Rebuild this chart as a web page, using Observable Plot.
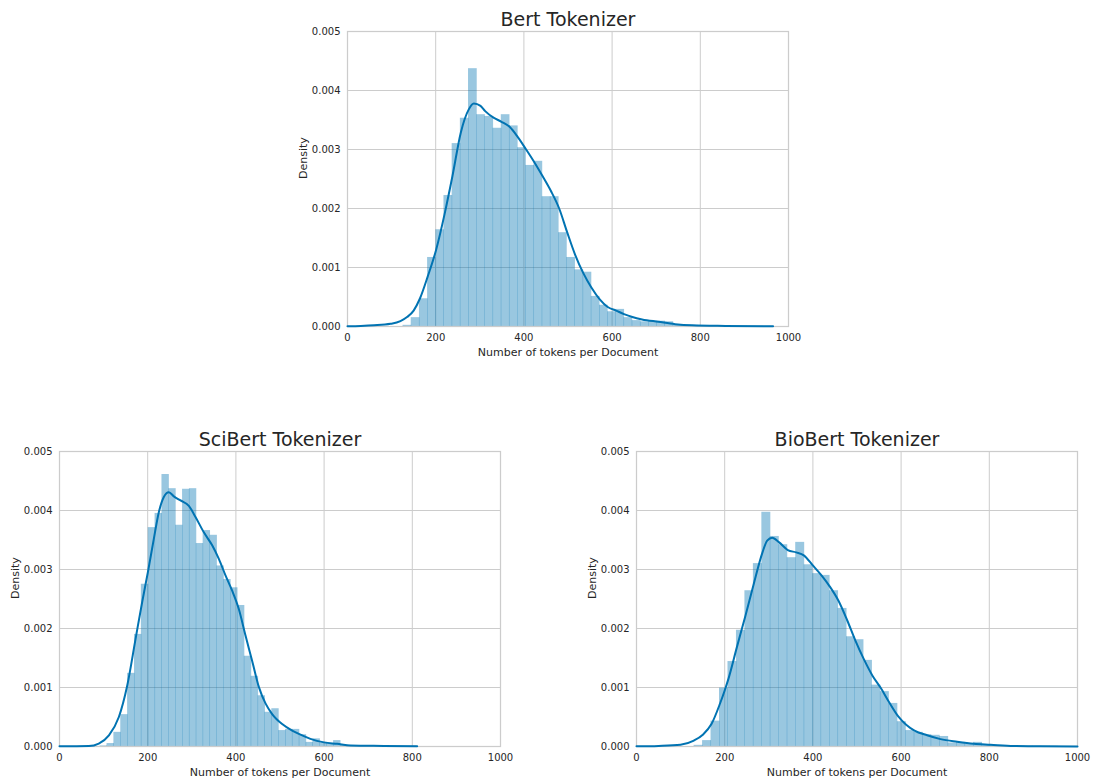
<!DOCTYPE html>
<html><head><meta charset="utf-8">
<script src="https://cdn.jsdelivr.net/npm/d3@7"></script>
<script src="https://cdn.jsdelivr.net/npm/@observablehq/plot@0.6"></script>
<style>
html,body{margin:0;padding:0;background:#fff;}
#fig{position:relative;width:1094px;height:782px;overflow:hidden;background:#fff;}
#fig svg{position:absolute;}
</style></head><body><div id="fig"></div>
<script>
const xTicks = [0, 200, 400, 600, 800, 1000];
const xTickLabels = ["0", "200", "400", "600", "800", "1000"];
const yTicks = [0, 0.001, 0.002, 0.003, 0.004, 0.005];
const yTickLabels = ["0.000", "0.001", "0.002", "0.003", "0.004", "0.005"];
const titles = ["Bert Tokenizer", "SciBert Tokenizer", "BioBert Tokenizer"];
const xLabel = "Number of tokens per Document";
const yLabel = "Density";

// Bert
const bertEdges = [126.5, 145.1, 163.7, 182.2, 200.8, 219.3, 237.9, 256.5, 275.0, 293.6, 312.1, 330.7, 349.3, 367.8, 386.4, 404.9, 423.5, 442.1, 460.6, 479.2, 497.7, 516.3, 534.9, 553.4, 572.0, 590.5, 609.1, 627.7, 646.2, 664.8, 683.3, 701.9, 720.5, 739.0, 757.6, 776.1, 794.7, 813.2, 831.8, 850.4, 868.9, 887.5, 906.0, 924.6, 943.2, 961.7];
const bertDensity = [0.00002, 0.00015, 0.00047, 0.00117, 0.00164, 0.00222, 0.00310, 0.00353, 0.00437, 0.00359, 0.00356, 0.00336, 0.00359, 0.00340, 0.00303, 0.00273, 0.00280, 0.00220, 0.00220, 0.00159, 0.00117, 0.00096, 0.00092, 0.00051, 0.00036, 0.00025, 0.00029, 0.00015, 0.00010, 0.00008, 0.00009, 0.00009, 0.00008, 0.00003, 0.00002, 0.00002, 0.000015, 0.00001, 0.00001, 0.000008, 0.000006, 0.000005, 0.000004, 0.000004, 0.000003];
const bertKdeX = [0, 30, 60, 97.5, 120, 135, 150, 164, 182, 201, 220, 238, 257, 275, 286.5, 301.6, 312.2, 331.1, 349.2, 368.1, 386.2, 405.1, 424, 442.2, 461, 480, 498, 516, 535, 553, 572, 590, 609, 627, 646, 668, 705, 743, 781, 857, 965];
const bertKdeY = [0.000005, 0.00001, 0.00002, 0.000045, 0.00009, 0.00016, 0.00027, 0.00047, 0.00085, 0.00130, 0.00190, 0.00255, 0.00329, 0.00368, 0.00378, 0.00374, 0.00365, 0.00354, 0.00347, 0.00338, 0.00321, 0.00300, 0.00278, 0.00255, 0.00230, 0.00200, 0.00160, 0.00122, 0.00090, 0.00066, 0.00046, 0.00033, 0.00027, 0.00021, 0.00016, 0.00012, 0.00008, 0.00004, 0.00002, 0.00001, 0.000004];

// SciBert
const sciEdges = [92.8, 108.3, 123.9, 139.5, 155.0, 170.6, 186.2, 201.8, 217.3, 232.9, 248.5, 264.0, 279.6, 295.2, 310.7, 326.3, 341.9, 357.5, 373.0, 388.6, 404.2, 419.7, 435.3, 450.9, 466.4, 482.0, 497.6, 513.2, 528.7, 544.3, 559.9, 575.4, 591.0, 606.6, 622.1, 637.7, 653.3, 668.9, 684.4, 700.0, 715.6, 731.1, 746.7, 762.3, 777.8, 793.4, 809.0];
const sciDensity = [0.00001, 0.00005, 0.00024, 0.00054, 0.00124, 0.00190, 0.00275, 0.00371, 0.00395, 0.00461, 0.00437, 0.00375, 0.00436, 0.00437, 0.00344, 0.00366, 0.00358, 0.00306, 0.00283, 0.00269, 0.00239, 0.00153, 0.00119, 0.00086, 0.00058, 0.00064, 0.00027, 0.00029, 0.00029, 0.00020, 0.00007, 0.00013, 0.00006, 0.00005, 0.00010, 0.00003, 0.000015, 0.000015, 0.00001, 0.00001, 0.000008, 0.000006, 0.000005, 0.000004, 0.000003, 0.000003];
const sciKdeX = [0, 66.5, 89, 112, 134.6, 153.5, 172.4, 187.5, 200.3, 213.9, 225.2, 236.6, 247.9, 259.2, 274.4, 293.3, 308.4, 327.3, 346.2, 361.3, 376.4, 391.5, 406.6, 421.8, 436.9, 452, 467.1, 482.2, 504.9, 527.6, 546.5, 569, 600, 629.6, 659.9, 735.4, 811];
const sciKdeY = [0.000003, 0.000008, 0.00005, 0.00019, 0.00050, 0.00103, 0.00182, 0.00245, 0.00295, 0.00352, 0.00397, 0.00423, 0.00431, 0.00424, 0.00417, 0.00408, 0.00389, 0.00363, 0.00341, 0.00318, 0.00290, 0.00264, 0.00233, 0.00188, 0.00145, 0.00101, 0.00073, 0.00055, 0.00038, 0.00027, 0.00020, 0.00013, 0.00007, 0.000045, 0.000017, 0.00001, 0.000004];

// BioBert
const bioEdges = [131.2, 150.4, 169.6, 188.8, 208.0, 227.2, 246.4, 265.6, 284.8, 304.0, 323.2, 342.4, 361.6, 380.8, 400.0, 419.2, 438.4, 457.6, 476.8, 496.0, 515.2, 534.4, 553.6, 572.8, 592.0, 611.2, 630.4, 649.6, 668.8, 688.0, 707.2, 726.4, 745.6, 764.8, 784.0, 803.2, 822.4, 841.6, 860.8, 880.0, 899.2, 918.4, 937.6, 956.8];
const bioDensity = [0.00002, 0.00010, 0.00043, 0.00099, 0.00144, 0.00197, 0.00264, 0.00310, 0.00397, 0.00356, 0.00342, 0.00320, 0.00346, 0.00308, 0.00293, 0.00290, 0.00264, 0.00234, 0.00186, 0.00181, 0.00146, 0.00104, 0.00093, 0.00073, 0.00042, 0.00027, 0.00024, 0.00020, 0.00019, 0.00017, 0.00006, 0.00007, 0.000045, 0.00007, 0.00003, 0.000015, 0.000012, 0.00001, 0.000008, 0.000006, 0.000005, 0.000004, 0.000003];
const bioKdeX = [0, 50, 99.8, 130, 150.4, 170, 189, 200, 208.6, 227.5, 247.2, 266, 285.7, 296.3, 307.6, 323.5, 343.1, 362, 379.4, 399.8, 419.5, 438.4, 458, 477.7, 496.6, 515.5, 535.1, 554, 572.9, 592.6, 611.5, 630.4, 659.1, 689.3, 727.1, 764.9, 802.7, 855.6, 916, 1000];
const bioKdeY = [0.000003, 0.00001, 0.00003, 0.00010, 0.00020, 0.00038, 0.00072, 0.00095, 0.00115, 0.00168, 0.00222, 0.00276, 0.00329, 0.00349, 0.00354, 0.00346, 0.00333, 0.00329, 0.00324, 0.00307, 0.00290, 0.00271, 0.00247, 0.00214, 0.00179, 0.00148, 0.00120, 0.00099, 0.00075, 0.00052, 0.00037, 0.00027, 0.00019, 0.000125, 0.00008, 0.000045, 0.00003, 0.00001, 0.000005, 0.000001];

const BLUE = "#0173B2";
const GRID = "#cccccc";
const TEXT = "#262626";
const FONT = "DejaVu Sans";

function panel({title, edges, density, kdeX, kdeY, left, top}) {
  const bins = density.map((d, i) => ({x1: edges[i], x2: edges[i + 1], y: d}));
  const kde = kdeX.map((x, i) => ({x, y: kdeY[i]}));
  const mL = 59, mR = 16, mT = 31, mB = 36, W = 441, H = 295;
  const svg = Plot.plot({
    width: W + mL + mR, height: H + mT + mB,
    marginLeft: mL, marginRight: mR, marginTop: mT, marginBottom: mB,
    x: {domain: [0, 1000]},
    y: {domain: [0, 0.005]},
    style: {fontFamily: FONT, fontSize: "10px", color: TEXT, background: "transparent", overflow: "visible"},
    marks: [
      Plot.gridX(xTicks, {stroke: GRID, strokeOpacity: 1, strokeWidth: 1}),
      Plot.gridY(yTicks, {stroke: GRID, strokeOpacity: 1, strokeWidth: 1}),
      Plot.rectY(bins, {x1: "x1", x2: "x2", y1: 0, y2: "y", fill: BLUE, fillOpacity: 0.4, insetLeft: -0.25, insetRight: -0.25}),
      Plot.frame({stroke: GRID, strokeWidth: 1.25}),
      Plot.line(kde, {x: "x", y: "y", stroke: BLUE, strokeWidth: 2, curve: "monotone-x"}),
      Plot.axisX(xTicks, {tickSize: 0, tickPadding: 7.5, tickFormat: d => xTickLabels[xTicks.indexOf(d)], label: null, fill: TEXT}),
      Plot.axisY(yTicks, {tickSize: 0, tickPadding: 7, tickFormat: d => yTickLabels[yTicks.indexOf(d)], label: null, fill: TEXT}),
      Plot.text([title], {text: d => d, frameAnchor: "top", dy: -6, lineAnchor: "bottom", fontSize: 19, fill: TEXT}),
      Plot.text([xLabel], {text: d => d, frameAnchor: "bottom", dy: 29, lineAnchor: "bottom", fontSize: 11, fill: TEXT}),
      Plot.text([yLabel], {text: d => d, frameAnchor: "left", dx: -44, rotate: -90, lineAnchor: "middle", fontSize: 11, fill: TEXT})
    ]
  });
  svg.style.position = "absolute";
  svg.style.left = (left - mL) + "px";
  svg.style.top = (top - mT) + "px";
  svg.style.maxWidth = "none";
  document.getElementById("fig").appendChild(svg);
}

panel({title: titles[0], edges: bertEdges, density: bertDensity, kdeX: bertKdeX, kdeY: bertKdeY, left: 347, top: 31});
panel({title: titles[1], edges: sciEdges, density: sciDensity, kdeX: sciKdeX, kdeY: sciKdeY, left: 59, top: 451});
panel({title: titles[2], edges: bioEdges, density: bioDensity, kdeX: bioKdeX, kdeY: bioKdeY, left: 636, top: 451});
</script></body></html>
